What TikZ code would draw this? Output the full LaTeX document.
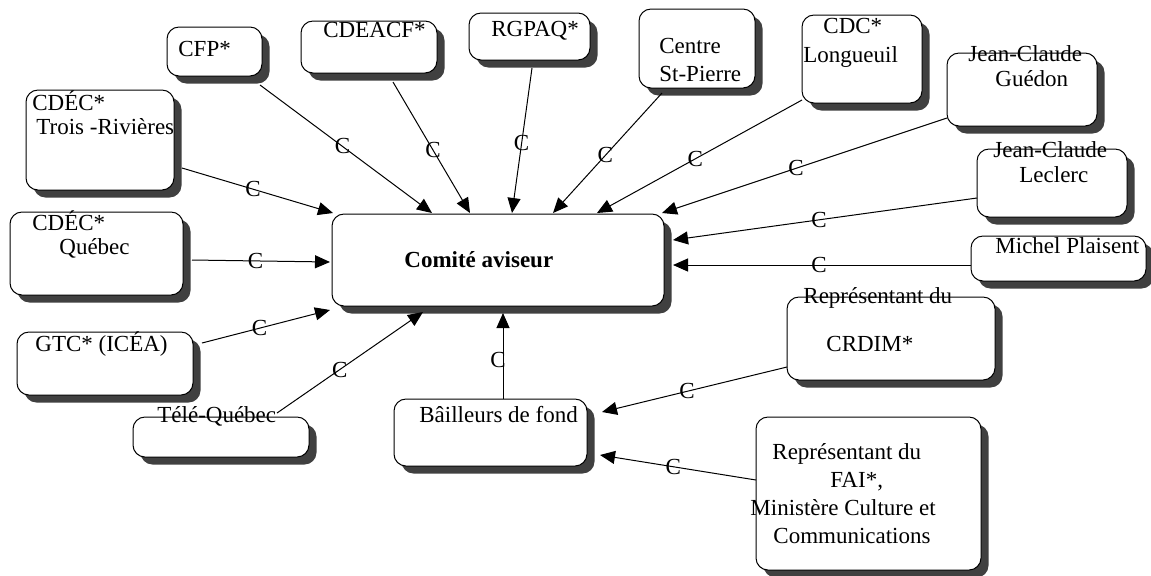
\documentclass[tikz,border=0pt]{standalone}
\usepackage{fontspec}
\setmainfont{Liberation Serif}
\usetikzlibrary{shadows,arrows.meta,calc}
\definecolor{shadowgray}{RGB}{64,64,64}
\begin{document}
\begin{tikzpicture}[x=0.5pt,y=-0.5pt,
  box/.style={draw=black, line width=0.5pt, fill=white, rounded corners=6pt, inner sep=0pt,
    general shadow={fill=shadowgray, shadow xshift=3.75pt, shadow yshift=-3.75pt}},
  txt/.style={inner sep=0pt, anchor=base west, font=\fontsize{11.5}{13}\selectfont},
  arr/.style={line width=0.5pt, -{Triangle[length=7.5pt,width=6.5pt]}},
  lab/.style={inner sep=0pt, font=\fontsize{11.5}{13}\selectfont}]
\useasboundingbox[fill=white] (0,0) rectangle (1151,575);

% boxes
\node[box, minimum width=74pt,   minimum height=50pt]   (tr)      at (100,140)    {};
\node[box, minimum width=86.5pt, minimum height=41.5pt] (qc)      at (96.5,253.5) {};
\node[box, minimum width=88pt,   minimum height=31.5pt] (gtc)     at (105,363.5)  {};
\node[box, minimum width=88pt,   minimum height=20pt]   (tele)    at (221,437)    {};
\node[box, minimum width=47.5pt, minimum height=24.5pt] (cfp)     at (214.5,51.5) {};
\node[box, minimum width=68pt,   minimum height=26pt]   (cdeacf)  at (369,47)     {};
\node[box, minimum width=60.5pt, minimum height=23.5pt] (rgpaq)   at (529.5,36.5) {};
\node[box, minimum width=58pt,   minimum height=39.5pt] (csp)     at (697,48.5)   {};
\node[box, minimum width=60pt,   minimum height=44pt]   (cdc)     at (862,59)     {};
\node[box, minimum width=75pt,   minimum height=36.5pt] (guedon)  at (1022,89.5)  {};
\node[box, minimum width=75pt,   minimum height=34pt]   (leclerc) at (1052,183)   {};
\node[box, minimum width=87.5pt, minimum height=22.5pt] (michel)  at (1058.5,258.5) {};
\node[box, minimum width=104pt,  minimum height=41.5pt] (crdim)   at (891,338.5)  {};
\node[box, minimum width=112.5pt,minimum height=76.5pt] (fai)     at (868.5,493.5) {};
\node[box, minimum width=96.5pt, minimum height=33.5pt] (bail)    at (490.5,432.5) {};
\node[box, minimum width=166pt,  minimum height=46pt]   (comite)  at (498,260)    {};

% texts
\node[txt] (trA) at (32,110) {CDÉC*};
\node[txt] (trB) at (36,134) {Trois -Rivières};
\node[txt] (qcA) at (32,230) {CDÉC*};
\node[txt] (qcB) at (59,254) {Québec};
\node[txt] (gtcA) at (35,351) {GTC* (ICÉA)};
\node[txt] (teleA) at (157,422) {Télé-Québec};
\node[txt] (cfpA) at (178,56) {CFP*};
\node[txt] (cdeacfA) at (323,37) {CDEACF*};
\node[txt] (rgpaqA) at (491,36) {RGPAQ*};
\node[txt] (cspA) at (659,53) {Centre};
\node[txt] (cspB) at (659,81) {St-Pierre};
\node[txt] (cdcA) at (823,33) {CDC*};
\node[txt] (cdcB) at (803,62) {Longueuil};
\node[txt] (guedonA) at (968,61) {Jean-Claude};
\node[txt] (guedonB) at (995,86) {Guédon};
\node[txt] (leclercA) at (993,157) {Jean-Claude};
\node[txt] (leclercB) at (1019,182) {Leclerc};
\node[txt] (michelA) at (995,253) {Michel Plaisent};
\node[txt] (crdimA) at (803,303) {Représentant du};
\node[txt] (crdimB) at (826,351) {CRDIM*};
\node[txt] (faiA) at (772,459) {Représentant du};
\node[txt] (faiB) at (830,487) {FAI*,};
\node[txt] (faiC) at (750,515) {Ministère Culture et};
\node[txt] (faiD) at (773,543) {Communications};
\node[txt] (bailA) at (419,422) {Bâilleurs de fond};
\node[txt, font=\fontsize{11.5}{13}\selectfont\bfseries] (comiteA) at (404,267) {Comité aviseur};

% connectors
\draw[arr] ($(tr.center)+(82,28)$)      -- node[lab,pos=.47] (c1) {C}  ($(comite.center)+(-165,-47)$);
\draw[arr] ($(cfp.center)+(45.5,33.5)$) -- node[lab,pos=.48] (c2) {C}  ($(comite.center)+(-66,-47)$);
\draw[arr] ($(cdeacf.center)+(24,35)$)  -- node[lab,pos=.52] (c3) {C}  ($(comite.center)+(-28,-47)$);
\draw[arr] ($(rgpaq.center)+(2.5,31.5)$) -- node[lab,pos=.52] (c4) {C} ($(comite.center)+(14,-47)$);
\draw[arr] ($(csp.center)+(-35,44.5)$)  -- node[lab,pos=.52] (c5) {C}  ($(comite.center)+(55,-47)$);
\draw[arr] ($(cdc.center)+(-60,41)$)    -- node[lab,pos=.52] (c6) {C}  ($(comite.center)+(99,-47)$);
\draw[arr] ($(guedon.center)+(-75,28.5)$) -- node[lab,pos=.53] (c7) {C} ($(comite.center)+(164,-47)$);
\draw[arr] ($(leclerc.center)+(-75,15)$) -- node[lab,pos=.52] (c8) {C} ($(comite.center)+(175,-20)$);
\draw[arr] ($(michel.center)+(-87.5,6.5)$) -- node[lab,pos=.51] (c9) {C} ($(comite.center)+(175,5)$);
\draw[arr] ($(qc.center)+(95.5,6.5)$)   -- node[lab,pos=.46] (c10) {C} ($(comite.center)+(-168,2)$);
\draw[arr] ($(gtc.center)+(97,-20.5)$)  -- node[lab,pos=.45] (c11) {C} ($(comite.center)+(-168,50)$);
\draw[arr] ($(tele.center)+(56,-24)$)   -- node[lab,pos=.43] (c12) {C} ($(comite.center)+(-75,52)$);
\draw[arr] ($(bail.center)+(12.5,-33.5)$) -- node[lab,pos=.45,xshift=-2.5pt] (c13) {C} ($(comite.center)+(5,53)$);
\draw[arr] ($(crdim.center)+(-104,28.5)$) -- node[lab,pos=.54] (c14) {C} ($(bail.center)+(111.5,-20.5)$);
\draw[arr] ($(fai.center)+(-112.5,-13.5)$) -- node[lab,pos=.53] (c15) {C} ($(bail.center)+(109.5,22.5)$);
\end{tikzpicture}
\end{document}
